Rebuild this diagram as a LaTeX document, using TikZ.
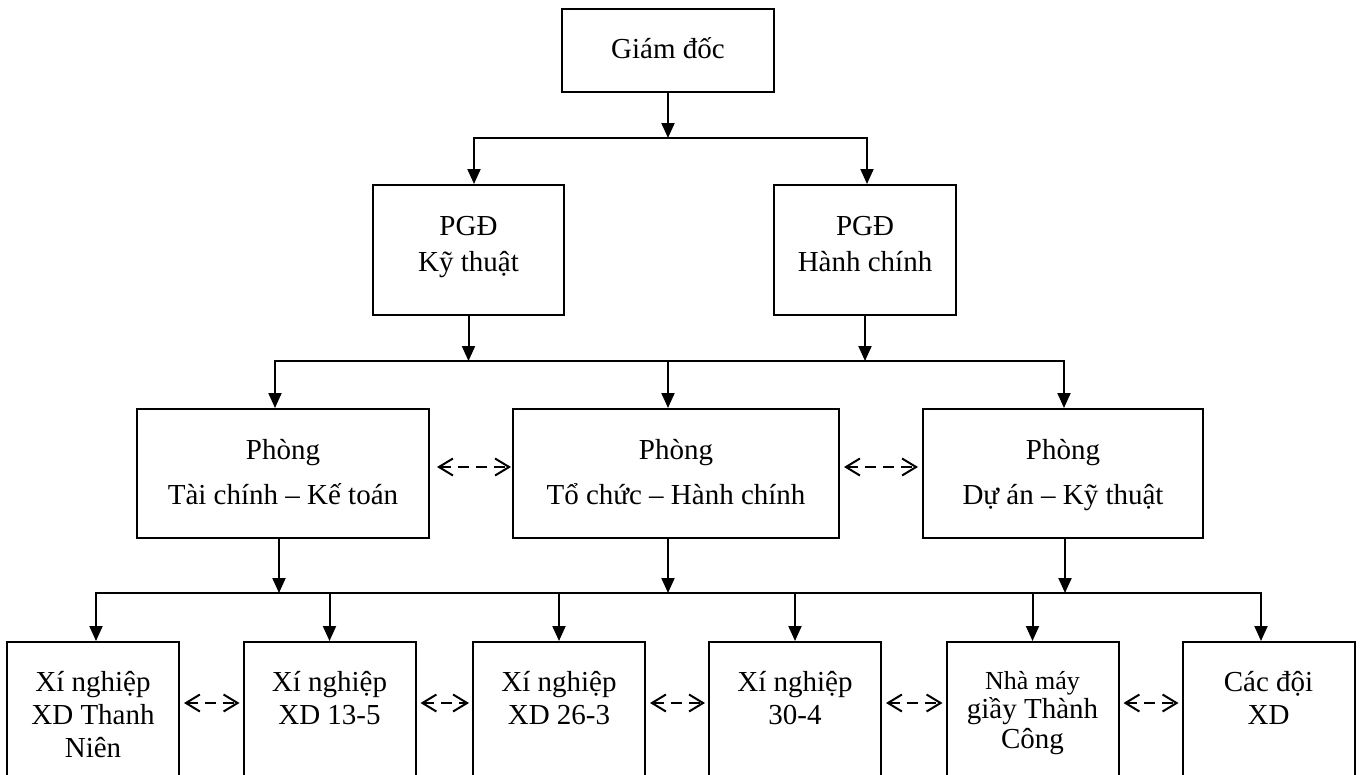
\documentclass[tikz,border=0pt]{standalone}
\usepackage{fontspec}
\setmainfont{Liberation Serif}
\usetikzlibrary{arrows.meta}

% text block for the bottom-row boxes: top-aligned lines in a tall frame
\newcommand{\unittext}[3][27pt]{\parbox[t][150pt][t]{172pt}{\centering\vspace*{#1}\rule{0pt}{#2}#3}}
% invisible struts fixing the height of a first line and the depth of a last line
\newcommand{\toprule}[1]{\rule{0pt}{#1}}
\newcommand{\lowrule}[1]{\rule[-#1]{0pt}{#1}}

\begin{document}
\begin{tikzpicture}[x=1pt,y=-1pt,
  frame/.style={draw, line width=2pt, inner sep=0pt, align=center},
  topbox/.style={frame, font=\fontsize{29}{36}\selectfont},
  deptbox/.style={frame, minimum height=129pt, font=\fontsize{29}{45}\selectfont},
  unitbox/.style={frame, anchor=north, font=\fontsize{29}{33}\selectfont},
  arr/.style={line width=2pt, -{Triangle[length=15pt,width=13pt]}},
  bus/.style={line width=2pt},
  link/.style={line width=2pt, dash pattern=on 11pt off 7pt,
    {Straight Barb[length=14pt,width=17pt]}-{Straight Barb[length=14pt,width=17pt]}}
]
\useasboundingbox (0,0) rectangle (1363,774);
\fill[white] (0,0) rectangle (1363,774);
\clip (0,0) rectangle (1363,774);

% management
\node[topbox, minimum width=212pt, minimum height=83pt] (gd) at (668,50.5)
  {\toprule{27pt}Giám đốc\lowrule{12pt}};
\node[topbox, minimum width=191pt, minimum height=130pt] (pkt) at (468.5,250)
  {\toprule{23pt}PGĐ\\Kỹ thuật\lowrule{17pt}};
\node[topbox, minimum width=182pt, minimum height=130pt] (phc) at (865,250)
  {\toprule{23pt}PGĐ\\Hành chính\lowrule{17pt}};

% departments
\node[deptbox, minimum width=292pt] (tckt) at (283,473.5)
  {\toprule{28pt}Phòng\\Tài chính – Kế toán\lowrule{11pt}};
\node[deptbox, minimum width=326pt] (tchc) at (676,473.5)
  {\toprule{28pt}Phòng\\Tổ chức – Hành chính\lowrule{11pt}};
\node[deptbox, minimum width=280pt] (dakt) at (1063,473.5)
  {\toprule{28pt}Phòng\\Dự án – Kỹ thuật\lowrule{11pt}};

% units
\node[unitbox] (u1) at (93,641) {\unittext{22pt}{Xí nghiệp\\XD Thanh\\Niên}};
\node[unitbox] (u2) at (329.5,641) {\unittext{22pt}{Xí nghiệp\\XD 13-5}};
\node[unitbox] (u3) at (559,641) {\unittext{22pt}{Xí nghiệp\\XD 26-3}};
\node[unitbox] (u4) at (795,641) {\unittext{22pt}{Xí nghiệp\\30-4}};
\node[unitbox, font=\fontsize{29}{29.5}\selectfont] (u5) at (1032.5,641)
  {\unittext{20pt}{{\fontsize{26}{29.5}\selectfont Nhà máy}\\giầy Thành\\Công}};
\node[unitbox] (u6) at (1268.5,641) {\unittext{22pt}{Các đội\\XD}};

% bus junctions
\coordinate (b1m) at (668,138);
\coordinate (b1l) at (474,138);
\coordinate (b1r) at (867,138);
\coordinate (b2m) at (668,361);
\coordinate (b2l) at (275,361);
\coordinate (b2r) at (1064,361);
\coordinate (b3m) at (668,593);
\coordinate (b3l) at (96,593);
\coordinate (b3r) at (1261,593);
\coordinate (d1) at (279,593);
\coordinate (d3) at (1065,593);

% director to deputies
\draw[arr] (gd.south) -- (b1m);
\draw[arr] (b1m) -| (b1l |- pkt.north);
\draw[arr] (b1m) -| (b1r |- phc.north);

% deputies to departments
\draw[arr] (pkt.south) -- (pkt.south |- b2m);
\draw[arr] (phc.south) -- (phc.south |- b2m);
\draw[arr] (b2m) -| (b2l |- tckt.north);
\draw[arr] (b2m) -| (b2r |- dakt.north);
\draw[arr] (b2m) -- (tchc.north -| b2m);

% departments to units
\draw[arr] (d1 |- tckt.south) -- (d1);
\draw[arr] (b3m |- tchc.south) -- (b3m);
\draw[arr] (d3 |- dakt.south) -- (d3);
\draw[bus] (d1) -- (b3m) -- (d3);
\draw[arr] (b3m) -| (b3l |- u1.north);
\draw[arr] (b3m) -| (b3r |- u6.north);
\draw[arr] (u2.north |- b3m) -- (u2.north);
\draw[arr] (u3.north |- b3m) -- (u3.north);
\draw[arr] (u4.north |- b3m) -- (u4.north);
\draw[arr] (u5.north |- b3m) -- (u5.north);

% cooperation between departments
\draw[link] ([xshift=7pt,yshift=6.5pt]tckt.east) -- ([xshift=-1pt,yshift=6.5pt]tchc.west);
\draw[link] ([xshift=4pt,yshift=6.5pt]tchc.east) -- ([xshift=-4pt,yshift=6.5pt]dakt.west);

% cooperation between units
\draw[link] ([xshift=4pt,yshift=-62pt]u1.north east) -- ([xshift=-3pt,yshift=-62pt]u2.north west);
\draw[link] ([xshift=4pt,yshift=-62pt]u2.north east) -- ([xshift=-3pt,yshift=-62pt]u3.north west);
\draw[link] ([xshift=4pt,yshift=-62pt]u3.north east) -- ([xshift=-3pt,yshift=-62pt]u4.north west);
\draw[link] ([xshift=4pt,yshift=-62pt]u4.north east) -- ([xshift=-3pt,yshift=-62pt]u5.north west);
\draw[link] ([xshift=4pt,yshift=-62pt]u5.north east) -- ([xshift=-3pt,yshift=-62pt]u6.north west);
\end{tikzpicture}
\end{document}
